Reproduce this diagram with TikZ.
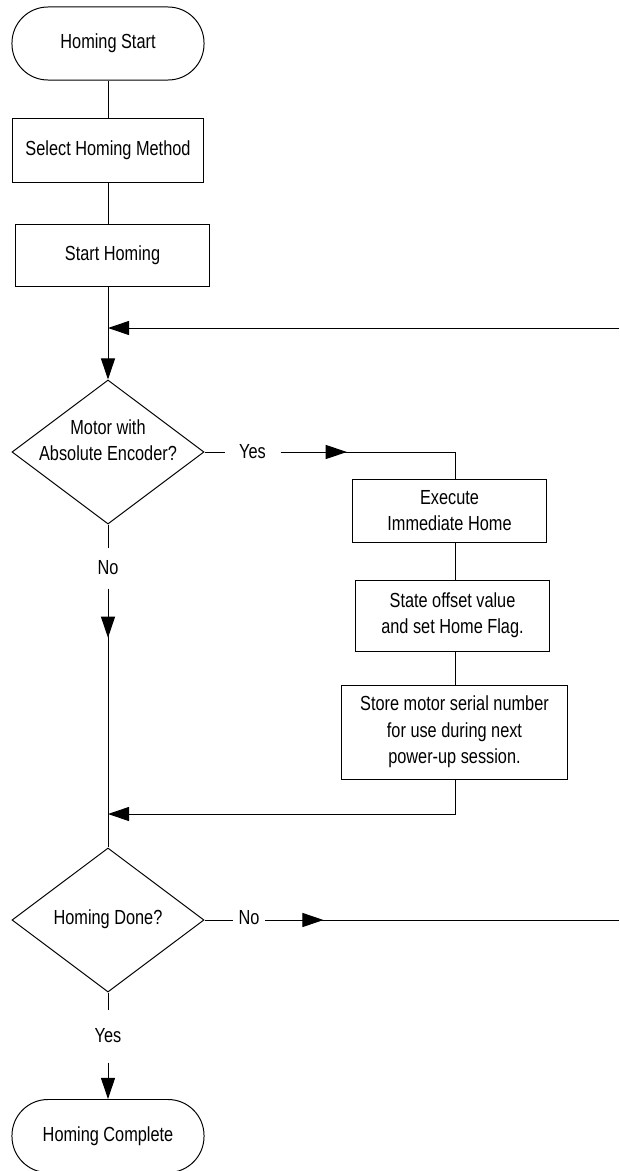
\documentclass[tikz,border=0pt]{standalone}
\usepackage{fontspec}
\setmainfont[FakeStretch=0.8]{Liberation Sans}
\usetikzlibrary{arrows.meta,positioning,shapes.geometric,decorations.markings}

\begin{document}
\begin{tikzpicture}[x=0.025cm,y=-0.025cm,line width=0.7pt,
  font=\fontsize{14.5}{18.8}\selectfont,
  term/.style={draw,rounded corners=0.9cm,minimum width=4.8cm,minimum height=1.825cm,inner sep=0pt},
  proc/.style={draw,align=center,inner sep=0pt},
  dec/.style={draw,diamond,minimum width=4.8cm,minimum height=3.6cm,inner sep=0pt},
  txt/.style={align=center,inner sep=0pt},
  lbl/.style={inner sep=0pt},
  arr/.style={-{Triangle[length=15pt,width=10pt]}},
  midarr/.style={postaction={decorate},decoration={markings,mark=at position #1 with {\arrow{Triangle[length=15pt,width=10pt]}}}}]
  \useasboundingbox (0,0) rectangle (619,1171);
  % Start of the homing sequence
  \node[term] (start) at (108,43.5) {Homing Start};
  \node[proc,minimum width=4.75cm,minimum height=1.6cm] (select) at (108,150) {Select Homing Method};
  \node[proc,minimum width=4.825cm,minimum height=1.55cm] (begin) at (112.5,255) {Start Homing};
  \draw (start) -- (select);
  \draw (select) -- (select |- begin.north);
  % First decision
  \node[dec] (dec1) at (108,452) {};
  \node[txt] (dec1txt) at (108,440) {Motor with\\Absolute Encoder?};
  \draw[arr] (select |- begin.south) -- (dec1);
  \coordinate (loopin) at (619,328);
  \draw[arr] (loopin) -- (loopin -| dec1);
  % Yes branch
  \node[lbl,minimum width=1.375cm] (yes1) at (252.5,452) {Yes};
  \node[proc,minimum width=4.825cm,minimum height=1.575cm] (exec) at (449.5,510.5) {Execute\\Immediate Home};
  \node[proc,minimum width=4.825cm,minimum height=1.775cm] (state) at (452.5,615.5) {State offset value\\and set Home Flag.};
  \node[proc,minimum width=5.625cm,minimum height=2.35cm] (store) at (454.5,732) {Store motor serial number\\for use during next\\power-up session.};
  \coordinate (col) at (455,452);
  \coordinate (back) at (108,814);
  \draw (dec1) -- (yes1);
  \draw[midarr=0.33] (yes1) -- (col) -- (col |- exec.north);
  \draw (exec.south -| col) -- (state.north -| col);
  \draw (state.south -| col) -- (store.north -| col);
  \draw[arr] (store.south -| col) |- (back);
  % No branch and second decision
  \node[lbl,minimum height=1cm] (no1) at (108,568) {No};
  \node[dec] (dec2) at (108,920) {};
  \node[txt] (dec2txt) at (108,919) {Homing Done?};
  \draw (dec1) -- (no1);
  \draw[midarr=0.19] (no1) -- (dec2);
  \node[lbl,minimum width=0.8cm] (no2) at (249,918) {No};
  \coordinate (loopout) at (619,920);
  \draw (dec2) -- (no2.west |- dec2);
  \draw[midarr=0.164] (no2.east |- dec2) -- (loopout);
  % End
  \node[lbl,minimum height=1.3cm] (yes2) at (108,1036) {Yes};
  \node[term] (done) at (108,1136) {Homing Complete};
  \draw (dec2) -- (yes2);
  \draw[arr] (yes2) -- (done);
\end{tikzpicture}
\end{document}
